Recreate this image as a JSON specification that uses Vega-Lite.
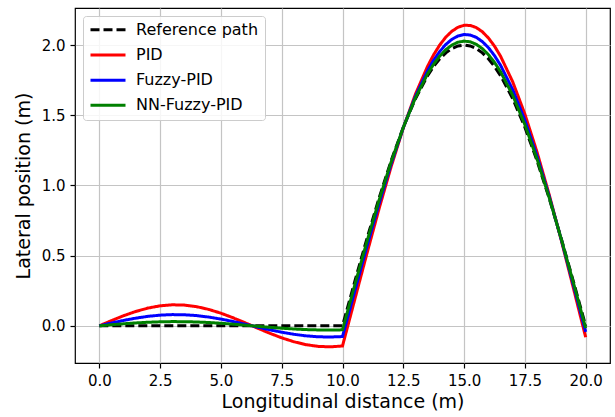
{
  "$schema": "https://vega.github.io/schema/vega-lite/v6.json",
  "width": 535,
  "height": 355,
  "autosize": {"type": "none"},
  "padding": {"left": 75, "top": 8, "right": 5, "bottom": 54},
  "background": "white",
  "config": {
    "font": "DejaVu Sans",
    "view": {"stroke": "black", "strokeWidth": 1.2},
    "axis": {
      "domain": false,
      "grid": true,
      "gridColor": "#c4c4c4",
      "gridWidth": 1.2,
      "tickColor": "black",
      "tickSize": 5,
      "tickWidth": 1.2,
      "labelFont": "DejaVu Sans",
      "labelFontSize": 15,
      "labelColor": "black",
      "labelPadding": 5,
      "titleFont": "DejaVu Sans",
      "titleFontSize": 19,
      "titleFontWeight": "normal",
      "titleColor": "black"
    },
    "legend": {
      "orient": "top-left",
      "offset": 8,
      "title": null,
      "fillColor": "rgba(255,255,255,0.85)",
      "strokeColor": "#cccccc",
      "cornerRadius": 3,
      "padding": 6,
      "rowPadding": 8.2,
      "clipHeight": 15.5,
      "symbolType": "stroke",
      "symbolSize": 1225,
      "symbolStrokeWidth": 3,
      "labelOffset": 9,
      "labelFont": "DejaVu Sans",
      "labelFontSize": 16,
      "labelColor": "black"
    }
  },
  "data": {"values": [
    {"x": 0, "y": 0, "s": "Reference path"},
    {"x": 0.5, "y": 0, "s": "Reference path"},
    {"x": 1, "y": 0, "s": "Reference path"},
    {"x": 1.5, "y": 0, "s": "Reference path"},
    {"x": 2, "y": 0, "s": "Reference path"},
    {"x": 2.5, "y": 0, "s": "Reference path"},
    {"x": 3, "y": 0, "s": "Reference path"},
    {"x": 3.5, "y": 0, "s": "Reference path"},
    {"x": 4, "y": 0, "s": "Reference path"},
    {"x": 4.5, "y": 0, "s": "Reference path"},
    {"x": 5, "y": 0, "s": "Reference path"},
    {"x": 5.5, "y": 0, "s": "Reference path"},
    {"x": 6, "y": 0, "s": "Reference path"},
    {"x": 6.5, "y": 0, "s": "Reference path"},
    {"x": 7, "y": 0, "s": "Reference path"},
    {"x": 7.5, "y": 0, "s": "Reference path"},
    {"x": 8, "y": 0, "s": "Reference path"},
    {"x": 8.5, "y": 0, "s": "Reference path"},
    {"x": 9, "y": 0, "s": "Reference path"},
    {"x": 9.5, "y": 0, "s": "Reference path"},
    {"x": 10, "y": 0, "s": "Reference path"},
    {"x": 10.5, "y": 0.3129, "s": "Reference path"},
    {"x": 11, "y": 0.618, "s": "Reference path"},
    {"x": 11.5, "y": 0.908, "s": "Reference path"},
    {"x": 12, "y": 1.1756, "s": "Reference path"},
    {"x": 12.5, "y": 1.4142, "s": "Reference path"},
    {"x": 13, "y": 1.618, "s": "Reference path"},
    {"x": 13.5, "y": 1.782, "s": "Reference path"},
    {"x": 13.75, "y": 1.8478, "s": "Reference path"},
    {"x": 14, "y": 1.9021, "s": "Reference path"},
    {"x": 14.25, "y": 1.9448, "s": "Reference path"},
    {"x": 14.5, "y": 1.9754, "s": "Reference path"},
    {"x": 14.75, "y": 1.9938, "s": "Reference path"},
    {"x": 15, "y": 2.0, "s": "Reference path"},
    {"x": 15.25, "y": 1.9938, "s": "Reference path"},
    {"x": 15.5, "y": 1.9754, "s": "Reference path"},
    {"x": 15.75, "y": 1.9448, "s": "Reference path"},
    {"x": 16, "y": 1.9021, "s": "Reference path"},
    {"x": 16.25, "y": 1.8478, "s": "Reference path"},
    {"x": 16.5, "y": 1.782, "s": "Reference path"},
    {"x": 17, "y": 1.618, "s": "Reference path"},
    {"x": 17.5, "y": 1.4142, "s": "Reference path"},
    {"x": 18, "y": 1.1756, "s": "Reference path"},
    {"x": 18.5, "y": 0.908, "s": "Reference path"},
    {"x": 19, "y": 0.618, "s": "Reference path"},
    {"x": 19.5, "y": 0.3129, "s": "Reference path"},
    {"x": 20, "y": 0, "s": "Reference path"},

    {"x": 0, "y": 0, "s": "PID"},
    {"x": 0.5, "y": 0.0371, "s": "PID"},
    {"x": 1, "y": 0.0719, "s": "PID"},
    {"x": 1.5, "y": 0.1022, "s": "PID"},
    {"x": 2, "y": 0.1262, "s": "PID"},
    {"x": 2.5, "y": 0.1424, "s": "PID"},
    {"x": 3, "y": 0.1496, "s": "PID"},
    {"x": 3.5, "y": 0.1476, "s": "PID"},
    {"x": 4, "y": 0.1364, "s": "PID"},
    {"x": 4.5, "y": 0.1167, "s": "PID"},
    {"x": 5, "y": 0.0898, "s": "PID"},
    {"x": 5.5, "y": 0.0573, "s": "PID"},
    {"x": 6, "y": 0.0212, "s": "PID"},
    {"x": 6.5, "y": -0.0162, "s": "PID"},
    {"x": 7, "y": -0.0526, "s": "PID"},
    {"x": 7.5, "y": -0.0857, "s": "PID"},
    {"x": 8, "y": -0.1135, "s": "PID"},
    {"x": 8.5, "y": -0.1343, "s": "PID"},
    {"x": 9, "y": -0.1466, "s": "PID"},
    {"x": 9.5, "y": -0.1499, "s": "PID"},
    {"x": 10, "y": -0.1438, "s": "PID"},
    {"x": 10.5, "y": 0.1841, "s": "PID"},
    {"x": 11, "y": 0.5122, "s": "PID"},
    {"x": 11.5, "y": 0.8318, "s": "PID"},
    {"x": 12, "y": 1.1337, "s": "PID"},
    {"x": 12.5, "y": 1.4092, "s": "PID"},
    {"x": 13, "y": 1.6503, "s": "PID"},
    {"x": 13.5, "y": 1.8495, "s": "PID"},
    {"x": 13.75, "y": 1.9315, "s": "PID"},
    {"x": 14, "y": 2.0007, "s": "PID"},
    {"x": 14.25, "y": 2.0567, "s": "PID"},
    {"x": 14.5, "y": 2.0989, "s": "PID"},
    {"x": 14.75, "y": 2.1269, "s": "PID"},
    {"x": 15, "y": 2.1407, "s": "PID"},
    {"x": 15.25, "y": 2.1399, "s": "PID"},
    {"x": 15.5, "y": 2.1246, "s": "PID"},
    {"x": 15.75, "y": 2.0948, "s": "PID"},
    {"x": 16, "y": 2.0505, "s": "PID"},
    {"x": 16.25, "y": 1.9923, "s": "PID"},
    {"x": 16.5, "y": 1.9204, "s": "PID"},
    {"x": 17, "y": 1.7378, "s": "PID"},
    {"x": 17.5, "y": 1.5079, "s": "PID"},
    {"x": 18, "y": 1.2374, "s": "PID"},
    {"x": 18.5, "y": 0.9341, "s": "PID"},
    {"x": 19, "y": 0.6067, "s": "PID"},
    {"x": 19.5, "y": 0.265, "s": "PID"},
    {"x": 20, "y": -0.0816, "s": "PID"},

    {"x": 0, "y": 0, "s": "Fuzzy-PID"},
    {"x": 0.5, "y": 0.0198, "s": "Fuzzy-PID"},
    {"x": 1, "y": 0.0384, "s": "Fuzzy-PID"},
    {"x": 1.5, "y": 0.0545, "s": "Fuzzy-PID"},
    {"x": 2, "y": 0.0673, "s": "Fuzzy-PID"},
    {"x": 2.5, "y": 0.0759, "s": "Fuzzy-PID"},
    {"x": 3, "y": 0.0798, "s": "Fuzzy-PID"},
    {"x": 3.5, "y": 0.0787, "s": "Fuzzy-PID"},
    {"x": 4, "y": 0.0727, "s": "Fuzzy-PID"},
    {"x": 4.5, "y": 0.0622, "s": "Fuzzy-PID"},
    {"x": 5, "y": 0.0479, "s": "Fuzzy-PID"},
    {"x": 5.5, "y": 0.0305, "s": "Fuzzy-PID"},
    {"x": 6, "y": 0.0113, "s": "Fuzzy-PID"},
    {"x": 6.5, "y": -0.0087, "s": "Fuzzy-PID"},
    {"x": 7, "y": -0.0281, "s": "Fuzzy-PID"},
    {"x": 7.5, "y": -0.0457, "s": "Fuzzy-PID"},
    {"x": 8, "y": -0.0605, "s": "Fuzzy-PID"},
    {"x": 8.5, "y": -0.0716, "s": "Fuzzy-PID"},
    {"x": 9, "y": -0.0782, "s": "Fuzzy-PID"},
    {"x": 9.5, "y": -0.0799, "s": "Fuzzy-PID"},
    {"x": 10, "y": -0.0767, "s": "Fuzzy-PID"},
    {"x": 10.5, "y": 0.2442, "s": "Fuzzy-PID"},
    {"x": 11, "y": 0.5616, "s": "Fuzzy-PID"},
    {"x": 11.5, "y": 0.8673, "s": "Fuzzy-PID"},
    {"x": 12, "y": 1.1532, "s": "Fuzzy-PID"},
    {"x": 12.5, "y": 1.4115, "s": "Fuzzy-PID"},
    {"x": 13, "y": 1.6352, "s": "Fuzzy-PID"},
    {"x": 13.5, "y": 1.818, "s": "Fuzzy-PID"},
    {"x": 13.75, "y": 1.8924, "s": "Fuzzy-PID"},
    {"x": 14, "y": 1.9547, "s": "Fuzzy-PID"},
    {"x": 14.25, "y": 2.0045, "s": "Fuzzy-PID"},
    {"x": 14.5, "y": 2.0412, "s": "Fuzzy-PID"},
    {"x": 14.75, "y": 2.0648, "s": "Fuzzy-PID"},
    {"x": 15, "y": 2.075, "s": "Fuzzy-PID"},
    {"x": 15.25, "y": 2.0717, "s": "Fuzzy-PID"},
    {"x": 15.5, "y": 2.055, "s": "Fuzzy-PID"},
    {"x": 15.75, "y": 2.0248, "s": "Fuzzy-PID"},
    {"x": 16, "y": 1.9813, "s": "Fuzzy-PID"},
    {"x": 16.25, "y": 1.9249, "s": "Fuzzy-PID"},
    {"x": 16.5, "y": 1.8558, "s": "Fuzzy-PID"},
    {"x": 17, "y": 1.6819, "s": "Fuzzy-PID"},
    {"x": 17.5, "y": 1.4642, "s": "Fuzzy-PID"},
    {"x": 18, "y": 1.2086, "s": "Fuzzy-PID"},
    {"x": 18.5, "y": 0.9219, "s": "Fuzzy-PID"},
    {"x": 19, "y": 0.612, "s": "Fuzzy-PID"},
    {"x": 19.5, "y": 0.2873, "s": "Fuzzy-PID"},
    {"x": 20, "y": -0.0435, "s": "Fuzzy-PID"},

    {"x": 0, "y": 0, "s": "NN-Fuzzy-PID"},
    {"x": 0.5, "y": 0.0074, "s": "NN-Fuzzy-PID"},
    {"x": 1, "y": 0.0144, "s": "NN-Fuzzy-PID"},
    {"x": 1.5, "y": 0.0204, "s": "NN-Fuzzy-PID"},
    {"x": 2, "y": 0.0252, "s": "NN-Fuzzy-PID"},
    {"x": 2.5, "y": 0.0285, "s": "NN-Fuzzy-PID"},
    {"x": 3, "y": 0.0299, "s": "NN-Fuzzy-PID"},
    {"x": 3.5, "y": 0.0295, "s": "NN-Fuzzy-PID"},
    {"x": 4, "y": 0.0273, "s": "NN-Fuzzy-PID"},
    {"x": 4.5, "y": 0.0233, "s": "NN-Fuzzy-PID"},
    {"x": 5, "y": 0.018, "s": "NN-Fuzzy-PID"},
    {"x": 5.5, "y": 0.0115, "s": "NN-Fuzzy-PID"},
    {"x": 6, "y": 0.0042, "s": "NN-Fuzzy-PID"},
    {"x": 6.5, "y": -0.0032, "s": "NN-Fuzzy-PID"},
    {"x": 7, "y": -0.0105, "s": "NN-Fuzzy-PID"},
    {"x": 7.5, "y": -0.0171, "s": "NN-Fuzzy-PID"},
    {"x": 8, "y": -0.0227, "s": "NN-Fuzzy-PID"},
    {"x": 8.5, "y": -0.0269, "s": "NN-Fuzzy-PID"},
    {"x": 9, "y": -0.0293, "s": "NN-Fuzzy-PID"},
    {"x": 9.5, "y": -0.03, "s": "NN-Fuzzy-PID"},
    {"x": 10, "y": -0.0288, "s": "NN-Fuzzy-PID"},
    {"x": 10.5, "y": 0.2871, "s": "NN-Fuzzy-PID"},
    {"x": 11, "y": 0.5968, "s": "NN-Fuzzy-PID"},
    {"x": 11.5, "y": 0.8928, "s": "NN-Fuzzy-PID"},
    {"x": 12, "y": 1.1672, "s": "NN-Fuzzy-PID"},
    {"x": 12.5, "y": 1.4132, "s": "NN-Fuzzy-PID"},
    {"x": 13, "y": 1.6245, "s": "NN-Fuzzy-PID"},
    {"x": 13.5, "y": 1.7955, "s": "NN-Fuzzy-PID"},
    {"x": 13.75, "y": 1.8645, "s": "NN-Fuzzy-PID"},
    {"x": 14, "y": 1.9218, "s": "NN-Fuzzy-PID"},
    {"x": 14.25, "y": 1.9672, "s": "NN-Fuzzy-PID"},
    {"x": 14.5, "y": 2.0001, "s": "NN-Fuzzy-PID"},
    {"x": 14.75, "y": 2.0204, "s": "NN-Fuzzy-PID"},
    {"x": 15, "y": 2.0281, "s": "NN-Fuzzy-PID"},
    {"x": 15.25, "y": 2.023, "s": "NN-Fuzzy-PID"},
    {"x": 15.5, "y": 2.0052, "s": "NN-Fuzzy-PID"},
    {"x": 15.75, "y": 1.9748, "s": "NN-Fuzzy-PID"},
    {"x": 16, "y": 1.9318, "s": "NN-Fuzzy-PID"},
    {"x": 16.25, "y": 1.8767, "s": "NN-Fuzzy-PID"},
    {"x": 16.5, "y": 1.8097, "s": "NN-Fuzzy-PID"},
    {"x": 17, "y": 1.642, "s": "NN-Fuzzy-PID"},
    {"x": 17.5, "y": 1.4329, "s": "NN-Fuzzy-PID"},
    {"x": 18, "y": 1.188, "s": "NN-Fuzzy-PID"},
    {"x": 18.5, "y": 0.9132, "s": "NN-Fuzzy-PID"},
    {"x": 19, "y": 0.6157, "s": "NN-Fuzzy-PID"},
    {"x": 19.5, "y": 0.3033, "s": "NN-Fuzzy-PID"},
    {"x": 20, "y": -0.0163, "s": "NN-Fuzzy-PID"}
  ]},
  "mark": {"type": "line", "strokeWidth": 3, "clip": true},
  "encoding": {
    "x": {
      "field": "x", "type": "quantitative",
      "scale": {"domain": [-1, 21], "nice": false, "zero": false},
      "axis": {"title": "Longitudinal distance (m)", "values": [0, 2.5, 5, 7.5, 10, 12.5, 15, 17.5, 20], "format": ".1f", "titlePadding": 4}
    },
    "y": {
      "field": "y", "type": "quantitative",
      "scale": {"domain": [-0.265, 2.264], "nice": false, "zero": false},
      "axis": {"title": "Lateral position (m)", "values": [0, 0.5, 1, 1.5, 2], "format": ".1f", "titlePadding": 8}
    },
    "color": {
      "field": "s", "type": "nominal",
      "scale": {"domain": ["Reference path", "PID", "Fuzzy-PID", "NN-Fuzzy-PID"], "range": ["#000000", "#ff0000", "#0000ff", "#008000"]},
      "sort": ["Reference path", "PID", "Fuzzy-PID", "NN-Fuzzy-PID"]
    },
    "strokeDash": {
      "field": "s", "type": "nominal",
      "scale": {"domain": ["Reference path", "PID", "Fuzzy-PID", "NN-Fuzzy-PID"], "range": [[9, 4], [1, 0], [1, 0], [1, 0]]},
      "sort": ["Reference path", "PID", "Fuzzy-PID", "NN-Fuzzy-PID"]
    }
  }
}
